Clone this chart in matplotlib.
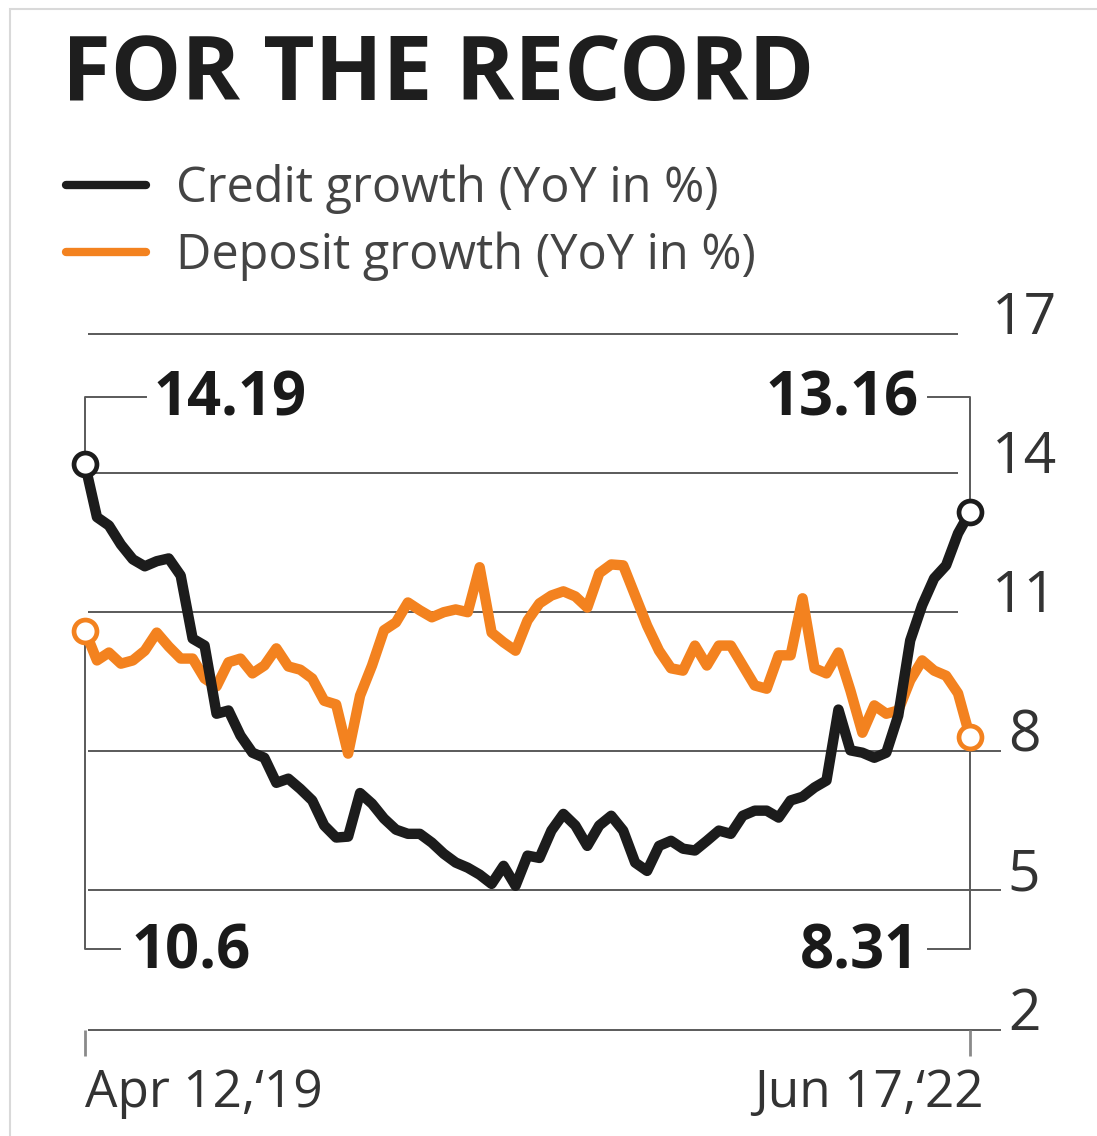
import numpy as np
import pandas as pd
import matplotlib
matplotlib.use("Agg")
import matplotlib.pyplot as plt
import matplotlib.transforms as mtransforms
from matplotlib.lines import Line2D
from matplotlib.patches import Rectangle

# ---------------------------------------------------------------
# data (fortnightly-ish, Apr 2019 - Jun 2022)
# ---------------------------------------------------------------
credit_growth = [
    14.19, 13.05, 12.87, 12.46, 12.14, 11.99, 12.10, 12.16, 11.79, 10.43,
    10.28, 8.81, 8.88, 8.34, 7.97, 7.86, 7.32, 7.41, 7.19, 6.94,
    6.40, 6.14, 6.16, 7.10, 6.87, 6.55, 6.31, 6.22, 6.22, 6.03,
    5.79, 5.60, 5.49, 5.34, 5.14, 5.53, 5.10, 5.75, 5.70, 6.29,
    6.65, 6.40, 5.96, 6.40, 6.61, 6.29, 5.60, 5.42, 5.96, 6.07,
    5.90, 5.86, 6.07, 6.29, 6.22, 6.61, 6.72, 6.72, 6.57, 6.94,
    7.02, 7.22, 7.37, 8.90, 8.02, 7.97, 7.86, 7.97, 8.77, 10.39,
    11.15, 11.73, 12.01, 12.70, 13.16,
]
deposit_growth = [
    10.60, 9.96, 10.13, 9.89, 9.96, 10.17, 10.56, 10.26, 10.00, 10.00,
    9.57, 9.40, 9.92, 10.00, 9.68, 9.85, 10.22, 9.83, 9.76, 9.57,
    9.09, 9.01, 7.95, 9.20, 9.85, 10.61, 10.78, 11.21, 11.04, 10.89,
    11.00, 11.06, 11.00, 11.97, 10.56, 10.35, 10.17, 10.82, 11.19, 11.36,
    11.45, 11.34, 11.10, 11.84, 12.03, 12.01, 11.36, 10.71, 10.17, 9.79,
    9.74, 10.28, 9.85, 10.28, 10.28, 9.85, 9.42, 9.35, 10.07, 10.07,
    11.30, 9.79, 9.68, 10.13, 9.31, 8.40, 8.99, 8.81, 8.88, 9.53,
    9.96, 9.74, 9.63, 9.25, 8.31,
]
dates = pd.date_range("2019-04-12", "2022-06-17", periods=len(credit_growth))
y_ticks = [2, 5, 8, 11, 14, 17]
x_tick_labels = ["Apr 12,\u201819", "Jun 17,\u201822"]

credit_label = "Credit growth (YoY in %)"
deposit_label = "Deposit growth (YoY in %)"

BLACK = "#1c1c1c"
ORANGE = "#f3821f"
GRID = "#5a5a5a"
TEXT = "#333333"

plt.rcParams["font.family"] = ["Open Sans", "DejaVu Sans"]

W, H = 1097, 1136
fig = plt.figure(figsize=(W / 100, H / 100), dpi=100)
fig.patch.set_facecolor("white")

# thin frame at the top/left of the clipping
fig.patches.append(Rectangle((10 / W, -0.01), 1.2, 1 - 9 / H + 0.01,
                             transform=fig.transFigure, fill=False,
                             edgecolor="#d9d9d9", lw=1.5))

# axes placed in pixel terms: x 85..970, y(17)=334, y(2)=1029.5
x0, x1 = 85, 970
y_top, y_bot = 334, 1029.5
ax = fig.add_axes([x0 / W, 1 - y_bot / H, (x1 - x0) / W, (y_bot - y_top) / H])
for s in ax.spines.values():
    s.set_visible(False)

span = dates[-1] - dates[0]
def xd(px):
    # pixel position -> date on the x scale
    return dates[0] + span * ((px - x0) / (x1 - x0))

# right-hand tick labels
ax.yaxis.tick_right()
ax.set_yticks(y_ticks)
ax.set_yticklabels([str(v) for v in y_ticks])
ax.tick_params(axis="y", length=0, pad=39, labelsize=41, labelcolor=TEXT)
for lab in ax.get_yticklabels():
    lab.set_ha("center")
    lab.set_va("baseline")

ax.set_xticks([dates[0], dates[-1]])
ax.set_xticklabels(x_tick_labels)
ax.tick_params(axis="x", length=19, width=2, color="#8a8a8a", direction="out",
               pad=9, labelsize=37, labelcolor=TEXT)
xl = ax.get_xticklabels()
xl[0].set_ha("left")
xl[1].set_ha("right")
# the end label overhangs its tick a little in the original
xl[1].set_transform(xl[1].get_transform() +
                    mtransforms.ScaledTranslation(14 / 100, 0, fig.dpi_scale_trans))

ax.set_xlim(dates[0], dates[-1])
ax.set_ylim(2, 17)

# gridlines (the 2 line doubles as the x-axis)
for v in y_ticks:
    right = 958 if v >= 11 else 1001
    ax.plot([xd(88), xd(right)], [v, v], color=GRID, lw=1.4,
            clip_on=False, zorder=1, solid_capstyle="butt")

# bracket lines to the callouts
bk = dict(color=GRID, lw=1.4, clip_on=False, zorder=2)
y_hi, y_lo = 15.64, 3.74
ax.plot([dates[0], dates[0], xd(146)], [credit_growth[0], y_hi, y_hi], **bk)
ax.plot([dates[0], dates[0], xd(120)], [deposit_growth[0], y_lo, y_lo], **bk)
ax.plot([dates[-1], dates[-1], xd(928)], [credit_growth[-1], y_hi, y_hi], **bk)
ax.plot([dates[-1], dates[-1], xd(928)], [deposit_growth[-1], y_lo, y_lo], **bk)

# series
ax.plot(dates, deposit_growth, color=ORANGE, lw=7.5, zorder=3,
        solid_joinstyle="round", solid_capstyle="round", clip_on=False)
ax.plot(dates, credit_growth, color=BLACK, lw=7.5, zorder=4,
        solid_joinstyle="round", solid_capstyle="round", clip_on=False)

# start / end markers
for series, col in [(deposit_growth, ORANGE), (credit_growth, BLACK)]:
    ax.plot([dates[0], dates[-1]], [series[0], series[-1]], ls="none",
            marker="o", ms=16.5, mfc="white", mec=col, mew=3.4,
            zorder=5, clip_on=False)

ax.set_xlim(dates[0], dates[-1])
ax.set_ylim(2, 17)

# callout values
num = dict(fontsize=43, fontweight="bold", color="#1a1a1a", va="baseline")
ax.text(xd(153), 15.25, f"{credit_growth[0]:.2f}", ha="left", **num)
ax.text(xd(919), 15.25, f"{credit_growth[-1]:.2f}", ha="right", **num)
ax.text(xd(131), 3.32, f"{deposit_growth[0]:.1f}", ha="left", **num)
ax.text(xd(919), 3.32, f"{deposit_growth[-1]:.2f}", ha="right", **num)

# title
fig.text(62 / W, 1 - 100 / H, "FOR THE RECORD", fontsize=64,
         fontweight="bold", color="#1e1e1e", ha="left", va="baseline")

# legend drawn by hand, as in the print graphic
for yy, col, lab in [(185, BLACK, credit_label), (252, ORANGE, deposit_label)]:
    fig.add_artist(Line2D([66 / W, 146 / W], [1 - yy / H, 1 - yy / H],
                          color=col, lw=6, solid_capstyle="round",
                          transform=fig.transFigure))
    fig.text(176 / W, 1 - (yy + 17) / H, lab, fontsize=35, color="#444444",
             ha="left", va="baseline")

fig.savefig("out.png", dpi=100, facecolor="white")
